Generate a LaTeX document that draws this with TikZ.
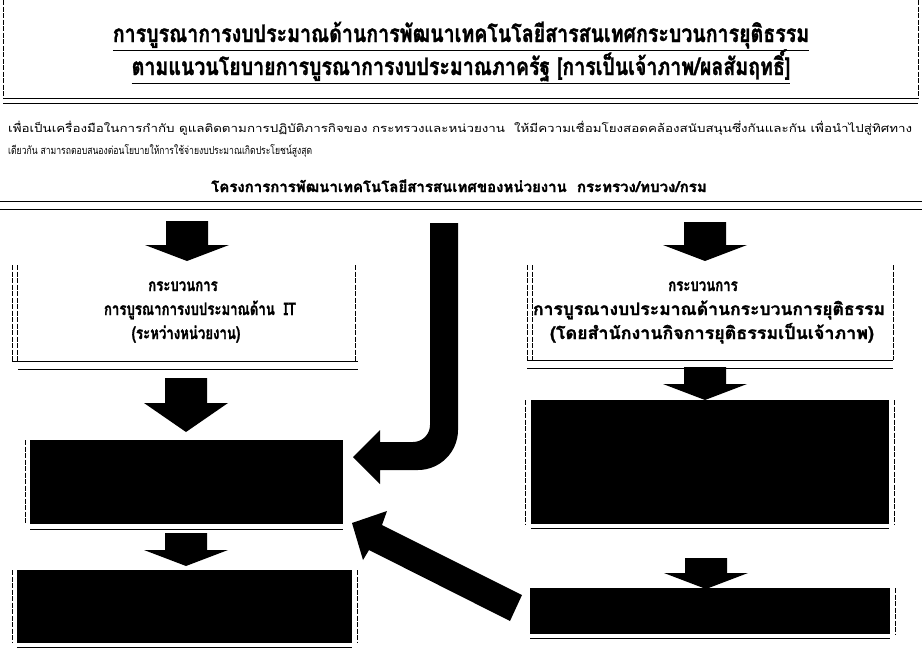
\documentclass[tikz,border=0pt]{standalone}
\usepackage{fontspec}
\newfontfamily\thai[Script=Thai, BoldFeatures={FakeBold=1.5}]{Loma}
\newcommand\bdarrow[4]{\fill ({#1-21},#2) -- ({#1+21},#2) -- ({#1+21},#3) -- ({#1+42},#3) -- (#1,#4) -- ({#1-42},#3) -- ({#1-21},#3) -- cycle;}
\newcommand\sqz[1]{\scalebox{0.88}[1.15]{#1}}
\newcommand\fitw[2]{\resizebox{#1}{1.15\height}{#2}}
\tikzset{
  titlef/.style={font=\thai\bfseries\fontsize{22}{26}\selectfont, inner sep=0pt, anchor=base},
  paraf/.style={font=\thai\fontsize{11}{12}\selectfont, inner sep=0pt, anchor=base west},
  headf/.style={font=\thai\bfseries\fontsize{15}{18}\selectfont, inner sep=0pt, anchor=base},
  boxtxt/.style={font=\thai\bfseries\fontsize{15}{18}\selectfont, inner sep=0pt, anchor=base},
  blk/.style={fill=black, draw=none, inner sep=0pt, anchor=north west},
  frame/.style={draw=none, inner sep=0pt, anchor=north west},
  sideline/.style={line width=0.7pt, dash pattern=on 5pt off 1.5pt},
  heavy/.style={line width=1.8pt},
  shadowline/.style={line width=1.1pt},
}
\begin{document}
\begin{tikzpicture}[x=1pt,y=-1pt]
\useasboundingbox (0,0) rectangle (922,653);
\fill[white] (0,0) rectangle (922,653);

% ---------- title box ----------
\node[frame, minimum width=915pt, minimum height=98pt] (tbox) at (3,0) {};
\draw[sideline] (tbox.north west) -- (tbox.south west);
\draw[sideline] (tbox.north east) -- (tbox.south east);
\draw[heavy] (tbox.south west) -- (tbox.south east);
\draw[shadowline] ([yshift=-5pt]tbox.south west) -- ([yshift=-5pt]tbox.south east);
\node[titlef] (t1) at (461,42) {\scalebox{0.89}[1.1]{\underline{การบูรณาการงบประมาณด้านการพัฒนาเทคโนโลยีสารสนเทศกระบวนการยุติธรรม}}};
\node[titlef] (t2) at (461,75) {\scalebox{0.89}[1.1]{\underline{ตามแนวนโยบายการบูรณาการงบประมาณภาครัฐ [การเป็นเจ้าภาพ/ผลสัมฤทธิ์]}}};

% ---------- paragraph ----------
\node[paraf] (p1) at (8,132) {\resizebox{904pt}{\height}{เพื่อเป็นเครื่องมือในการกำกับ ดูแลติดตามการปฏิบัติภารกิจของ กระทรวงและหน่วยงาน~~ให้มีความเชื่อมโยงสอดคล้องสนับสนุนซึ่งกันและกัน เพื่อนำไปสู่ทิศทาง}};
\node[paraf] (p2) at (8,154) {\resizebox{304pt}{\height}{เดียวกัน สามารถตอบสนองต่อนโยบายให้การใช้จ่ายงบประมาณเกิดประโยชน์สูงสุด}};

% ---------- heading ----------
\node[headf] (hd) at (459,192) {โครงการการพัฒนาเทคโนโลยีสารสนเทศของหน่วยงาน~~กระทรวง/ทบวง/กรม};
\coordinate (hl) at (0,201.5);
\coordinate (hr) at (922,201.5);
\draw[heavy] (hl) -- (hr);
\draw[shadowline] ([yshift=-8pt]hl) -- ([yshift=-8pt]hr);

% ---------- left column ----------
\bdarrow{187}{221}{245}{261}
\node[frame, minimum width=343pt, minimum height=96pt] (lt) at (12,265) {};
\draw[sideline] (lt.north west) -- (lt.south west);
\draw[sideline] ([xshift=5pt]lt.north west) -- ([xshift=5pt]lt.south west);
\draw[sideline] (lt.north east) -- (lt.south east);
\draw[heavy] (lt.south west) -- ([xshift=3pt]lt.south east);
\draw[shadowline] ([xshift=6pt,yshift=-8pt]lt.south west) -- ([xshift=3pt,yshift=-8pt]lt.south east);
\node[boxtxt] (lta) at (183,291) {\sqz{กระบวนการ}};
\node[boxtxt] (ltb) at (200,315) {\sqz{การบูรณาการงบประมาณด้าน~~IT}};
\node[boxtxt] (ltc) at (186,339) {\sqz{(ระหว่างหน่วยงาน)}};

\bdarrow{186}{378}{403}{432}
\node[blk, minimum width=313pt, minimum height=84pt] (lb1) at (30,440) {};
\draw[sideline] ([xshift=-5pt]lb1.north west) -- ([xshift=-5pt]lb1.south west);
\draw[shadowline] ([yshift=-5pt]lb1.south west) -- ([yshift=-5pt]lb1.south east);

\bdarrow{186}{533}{550}{566}
\node[blk, minimum width=335pt, minimum height=73pt] (lb2) at (17,570) {};
\draw[sideline] ([xshift=-5pt]lb2.north west) -- ([xshift=-5pt]lb2.south west);
\draw[sideline] ([xshift=5pt]lb2.north east) -- ([xshift=5pt]lb2.south east);
\draw[shadowline] ([yshift=-4pt]lb2.south west) -- ([yshift=-4pt]lb2.south east);

% ---------- right column ----------
\bdarrow{705}{222}{245}{261}
\node[frame, minimum width=366pt, minimum height=95pt] (rt) at (527,265) {};
\draw[sideline] (rt.north west) -- (rt.south west);
\draw[sideline] ([xshift=5pt]rt.north west) -- ([xshift=5pt]rt.south west);
\draw[sideline] (rt.north east) -- (rt.south east);
\draw[heavy] (rt.south west) -- (rt.south east);
\draw[shadowline] ([yshift=-8pt]rt.south west) -- ([yshift=-8pt]rt.south east);
\node[boxtxt] (rta) at (703,291) {\sqz{กระบวนการ}};
\node[boxtxt] (rtb) at (709,315) {\fitw{352pt}{การบูรณางบประมาณด้านกระบวนการยุติธรรม}};
\node[boxtxt] (rtc) at (712,339) {\fitw{324pt}{(โดยสำนักงานกิจการยุติธรรมเป็นเจ้าภาพ)}};

\bdarrow{705}{367}{384}{400}
\node[blk, minimum width=358pt, minimum height=124pt] (rb1) at (531,400) {};
\draw[sideline] ([xshift=-6pt]rb1.north west) -- ([xshift=-6pt]rb1.south west);
\draw[sideline] ([xshift=5pt]rb1.north east) -- ([xshift=5pt]rb1.south east);
\draw[shadowline] ([yshift=-4pt]rb1.south west) -- ([yshift=-4pt]rb1.south east);

\bdarrow{706}{558}{573}{589}
\node[blk, minimum width=360pt, minimum height=46pt] (rb2) at (530,588) {};
\draw[sideline] ([xshift=5pt]rb2.north east) -- ([xshift=5pt]rb2.south east);
\draw[shadowline] ([yshift=-4pt]rb2.south west) -- ([yshift=-4pt]rb2.south east);

% ---------- curved arrow ----------
\fill (430,223) -- (458,223) -- (458,430) .. controls (458,452) and (440,470) .. (418,470)
  -- (380,470) -- (380,484) -- (353,457) -- (380,430) -- (380,442) -- (413,442)
  .. controls (422.4,442) and (430,434.4) .. (430,425) -- cycle;

% ---------- diagonal arrow ----------
\fill (522,595) -- (510,621) -- (369,550) -- (363,560) -- (352,523) -- (387,511) -- (382,525) -- cycle;
\end{tikzpicture}
\end{document}
